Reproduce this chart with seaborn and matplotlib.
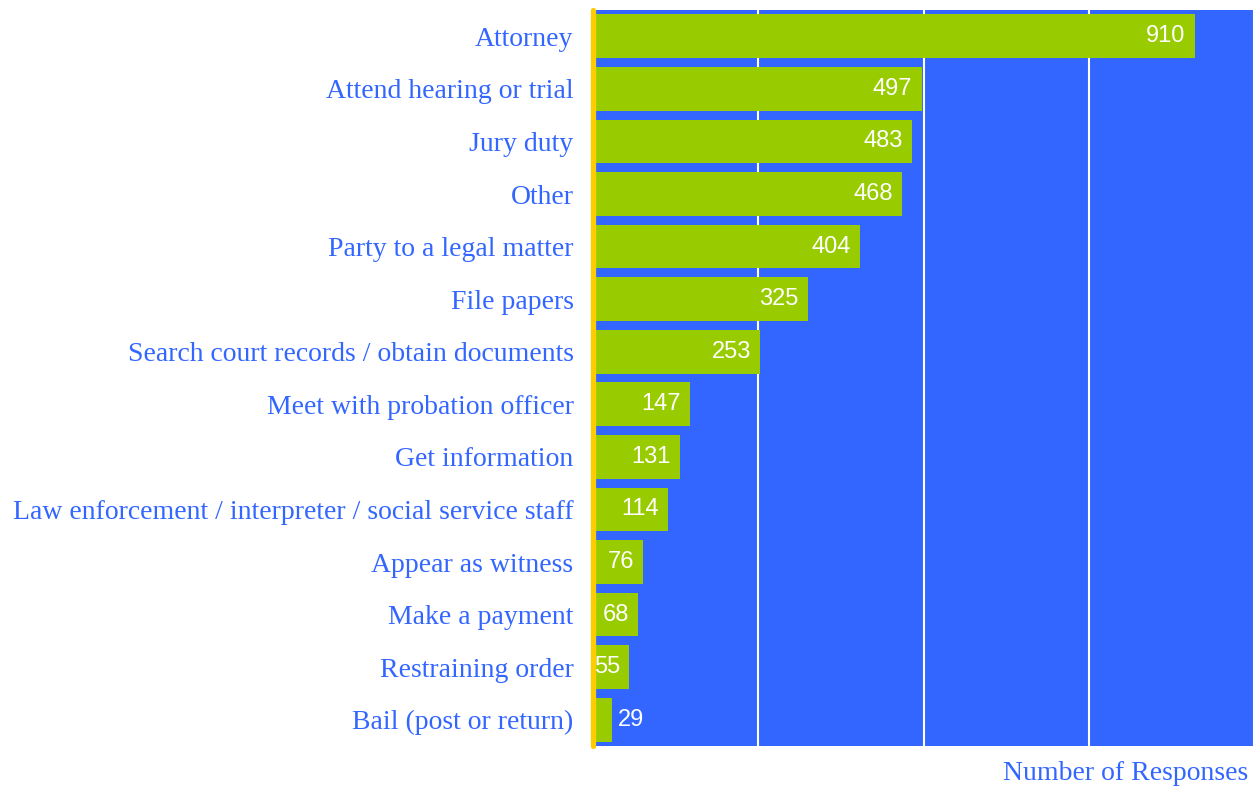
import matplotlib
matplotlib.use("Agg")
import matplotlib.pyplot as plt
import seaborn as sns
import pandas as pd

# Reasons for visiting the courthouse, with response counts
categories = [
    "Attorney",
    "Attend hearing or trial",
    "Jury duty",
    "Other",
    "Party to a legal matter",
    "File papers",
    "Search court records / obtain documents",
    "Meet with probation officer",
    "Get information",
    "Law enforcement / interpreter / social service staff",
    "Appear as witness",
    "Make a payment",
    "Restraining order",
    "Bail (post or return)",
]
responses = [910, 497, 483, 468, 404, 325, 253, 147, 131, 114, 76, 68, 55, 29]
grid_ticks = [250, 500, 750, 1000]
x_label = "Number of Responses"

BLUE = "#3366FF"
GREEN = "#99CC00"
YELLOW = "#FFCC00"

sns.set_theme(style="white")
plt.rcParams["font.family"] = ["Liberation Serif", "DejaVu Serif"]

df = pd.DataFrame({"category": categories, "responses": responses})

fig = plt.figure(figsize=(12.54, 7.88), dpi=100)
ax = fig.add_axes([593 / 1254, 1 - 746 / 788, 1 - 593 / 1254, (746 - 10) / 788])
ax.set_facecolor(BLUE)

# white vertical gridlines, kept below the bars
ax.set_axisbelow(True)

sns.barplot(data=df, x="responses", y="category", orient="h", color=GREEN,
            saturation=1, width=0.83, linewidth=0, zorder=2, ax=ax)

ax.set_xlim(0, 995)
ax.set_ylim(len(categories) - 0.5, -0.5)
ax.set_xticks(grid_ticks)
ax.grid(axis="x", color="white", linewidth=1.5)
ax.grid(axis="y", visible=False)

for s in ax.spines.values():
    s.set_visible(False)
ax.axvline(0, color=YELLOW, lw=3.8, solid_capstyle="round", clip_on=False, zorder=5)

ax.tick_params(axis="x", length=0, labelbottom=False)
ax.tick_params(axis="y", length=0, pad=14, labelsize=20, labelcolor=BLUE)
ax.set_ylabel("")
ax.set_xlabel("")

# value labels: inside the bar end, or just past it for very short bars
for i, v in enumerate(responses):
    if v < 40:
        ax.annotate(str(v), xy=(v, i), xytext=(4, 0), textcoords="offset points",
                    ha="left", va="center", color="white", fontsize=17,
                    family="Liberation Sans", zorder=6)
    else:
        ax.annotate(str(v), xy=(v, i), xytext=(-6.5, 0), textcoords="offset points",
                    ha="right", va="center", color="white", fontsize=17,
                    family="Liberation Sans", zorder=6)

fig.text(1248 / 1254, 1 - 773 / 788, x_label, ha="right", va="center",
         color=BLUE, fontsize=20)

fig.savefig("out.png", dpi=100, facecolor="white")
